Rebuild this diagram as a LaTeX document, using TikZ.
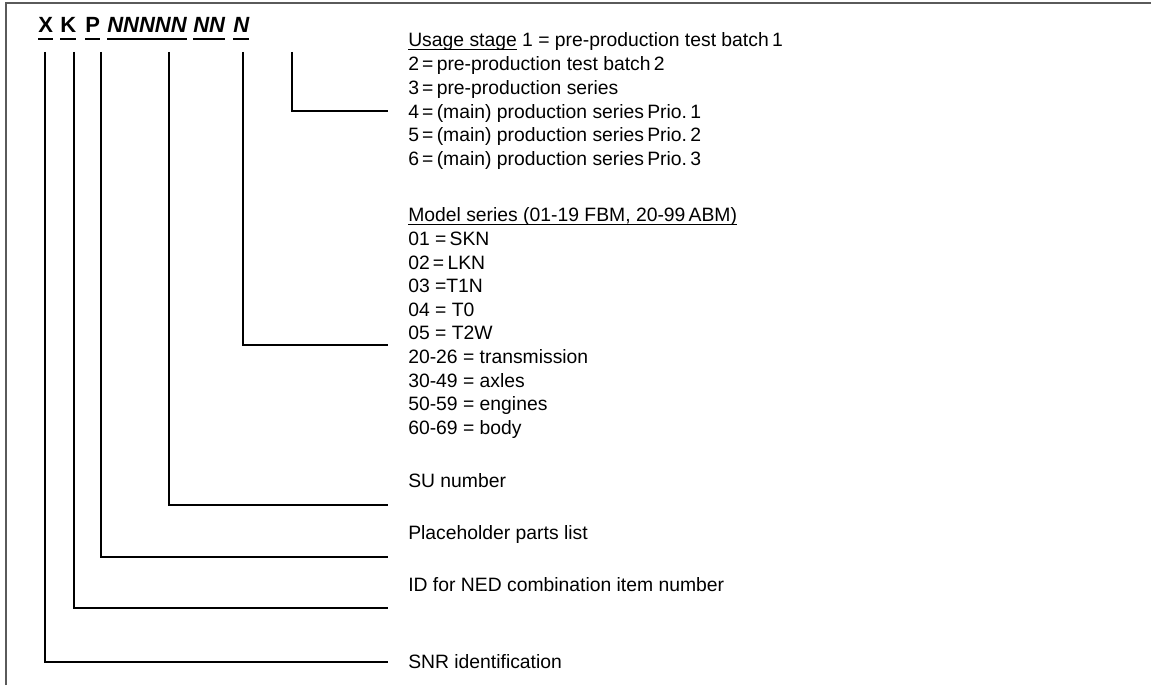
\documentclass[tikz,border=0pt]{standalone}
\usepackage{fontspec}
\setmainfont{Liberation Sans}
\usetikzlibrary{calc}
\definecolor{framegray}{RGB}{90,90,90}
\newcommand{\ulword}[1]{\leavevmode\setbox0\hbox{#1}\rlap{\rule[-2.2pt]{\wd0}{0.7pt}}\box0\relax}

\begin{document}
\begin{tikzpicture}[x=0.75pt,y=-0.75pt,
    lbl/.style={anchor=west,inner sep=0pt,text height=10.4pt,text depth=0pt,
      font=\fontsize{14.5}{17}\selectfont},
    code/.style={anchor=base west,inner sep=0pt,
      font=\fontsize{16.5}{20}\selectfont\bfseries},
    leader/.style={line width=1.5pt},
    uline/.style={line width=1.5pt}]
    \useasboundingbox (0,0) rectangle (1151,685);

    % Frame
    \draw[framegray,line width=1.1pt] (6,685) -- (6,3) -- (1151,3);

    % Code
    \node[code] (cX) at (38,33) {X};
    \node[code] (cK) at (60,33) {K};
    \node[code] (cP) at (85,33) {P};
    \node[code] (cNNNNN) at (107,33) {\itshape NNNNN};
    \node[code] (cNN) at (193,33) {\itshape NN};
    \node[code] (cN) at (233,33) {\itshape N};
    \foreach \g in {cX,cK,cP,cNNNNN,cNN,cN}
        \draw[uline] ([yshift=-4.5pt]\g.south west) -- ([yshift=-4.5pt]\g.south east);

    % Start points
    \coordinate (sX) at (45,52);
    \coordinate (sK) at (74,52);
    \coordinate (sP) at (101,52);
    \coordinate (sNNNNN) at (169,52);
    \coordinate (sNN) at (243,52);
    \coordinate (sN) at (292,52);

    % Usage stage
    \node[lbl] (u1) at (408,40) {\ulword{Usage stage} 1 = pre-production test batch\,1};
    \node[lbl] (u2) at (408,63.7) {2\,=\,pre-production test batch\,2};
    \node[lbl] (u3) at (408,87.4) {3\,=\,pre-production series};
    \node[lbl] (u4) at (408,111.1) {4\,=\,(main) production series\,Prio.\,1};
    \node[lbl] (u5) at (408,134.8) {5\,=\,(main) production series\,Prio.\,2};
    \node[lbl] (u6) at (408,158.5) {6\,=\,(main) production series\,Prio.\,3};

    % Model series
    \node[lbl] (m1) at (408,215) {\ulword{Model series (01-19 FBM, 20-99\,ABM)}};
    \node[lbl] (m2) at (408,238.6) {01 =\,SKN};
    \node[lbl] (m3) at (408,262.2) {02\,=\,LKN};
    \node[lbl] (m4) at (408,285.8) {03 =T1N};
    \node[lbl] (m5) at (408,309.4) {04 = T0};
    \node[lbl] (m6) at (408,333) {05 = T2W};
    \node[lbl] (m7) at (408,356.6) {20-26 = transmission};
    \node[lbl] (m8) at (408,380.2) {30-49 = axles};
    \node[lbl] (m9) at (408,403.8) {50-59 = engines};
    \node[lbl] (m10) at (408,427.4) {60-69 = body};

    % Other labels
    \node[lbl] (su) at (408,481) {SU number};
    \node[lbl] (plist) at (408,533) {Placeholder parts list};
    \node[lbl] (idned) at (408,585) {ID for NED combination item number};
    \node[lbl] (snr) at (408,662) {SNR identification};

    % Leaders
    \draw[leader] (sN) |- ([xshift=-15pt]u4.west);
    \draw[leader] (sNN) |- ($(m6.west)!0.5!(m7.west)+(-20,0)$);
    \draw[leader] (sNNNNN) |- ([xshift=-15pt,yshift=-18pt]su.west);
    \draw[leader] (sP) |- ([xshift=-15pt,yshift=-18pt]plist.west);
    \draw[leader] (sK) |- ([xshift=-15pt,yshift=-17pt]idned.west);
    \draw[leader] (sX) |- ([xshift=-15pt]snr.west);
\end{tikzpicture}
\end{document}
